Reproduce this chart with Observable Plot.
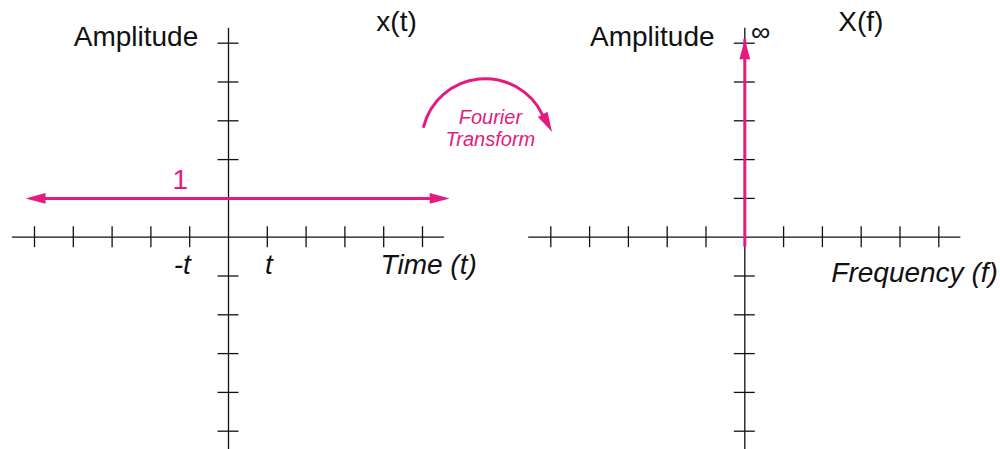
<!DOCTYPE html>
<html>
<head>
<meta charset="utf-8">
<script src="https://cdn.jsdelivr.net/npm/d3@7"></script>
<script src="https://cdn.jsdelivr.net/npm/@observablehq/plot@0.6"></script>
<style>
  html, body { margin: 0; padding: 0; background: #fff; overflow: hidden; }
</style>
</head>
<body>
<div id="chart"></div>
<script>
// ---------------- data ----------------
const panelKeys = ["time", "freq"];
const panelTitles = ["x(t)", "X(f)"];
const panelYLabels = ["Amplitude", "Amplitude"];
const panelXLabels = ["Time (t)", "Frequency (f)"];
const axisTicks = [-5, -4, -3, -2, -1, 1, 2, 3, 4, 5];
const timeTickValues = [-1, 1];
const timeTickLabels = ["-t", "t"];
const signalAmplitude = 1;             // x(t) = 1 (constant)
const signalStart = -5.23;             // left arrow tip (→ -∞)
const signalEnd = 5.70;                // right arrow tip (→ +∞)
const impulseFrequency = 0;            // X(f) impulse at f = 0
const impulseHeight = 5.1;             // arrow tip (→ ∞)
const impulseLabel = "∞";
const transformLabel = "Fourier\nTransform";

// ---------------- layout ----------------
const W = 1000, H = 449;
const UNIT = 38.8, ORIGIN_X = 228, ORIGIN_Y = 236.7;
const panelOrigin = [0, (744.3 - ORIGIN_X) / UNIT];
const titleX = [3.81, 2.41];
const xLabelX = [3.92, 2.23];
const xLabelY = [-0.96, -1.16];
const titleY = 5.31, yLabelX = -0.78, yLabelY = 4.915;
const axisHalf = 5.57, axisTop = 5.387, tickHalf = 0.27;
const tickLabelOffset = [-0.19, 0.04], tickLabelY = -0.96;
const ampLabelX = -1.24, ampLabelY = 1.25;
const infLabelX = 0.41, infLabelY = 5.06;
const arc = [{x1: 5.03, y1: 2.85, x2: 8.09, y2: 3.16, tipX: 8.34, tipY: 2.71, angle: 62}];
const transformTextX = 6.75, transformTextY = 2.34;

const PINK = "#e6197e";
const INK = "#111";
const FONT = "'Liberation Sans', Arial, Helvetica, sans-serif";

const xDomain = [-ORIGIN_X / UNIT, (W - ORIGIN_X) / UNIT];
const yDomain = [(ORIGIN_Y - H) / UNIT, ORIGIN_Y / UNIT];

const panels = panelKeys.map((key, i) => ({
  key, origin: panelOrigin[i], title: panelTitles[i],
  yLabel: panelYLabels[i], xLabel: panelXLabels[i],
  titleX: titleX[i], xLabelX: xLabelX[i], xLabelY: xLabelY[i]
}));
const ticks = panels.flatMap(p => axisTicks.map(v => ({origin: p.origin, v})));
const timeTicks = timeTickValues.map((v, i) => ({v, label: timeTickLabels[i], off: tickLabelOffset[i]}));
const signal = [{t0: signalStart, t1: signalEnd, a: signalAmplitude}];
const impulse = [{f: impulseFrequency, a: impulseHeight, label: impulseLabel}];

// filled arrowhead pointing along +x, tip at origin
const arrowHead = {
  draw(ctx) {
    ctx.moveTo(0, 0);
    ctx.lineTo(-20, -5.4);
    ctx.lineTo(-20, 5.4);
    ctx.closePath();
  }
};

const axisStyle = {stroke: INK, strokeWidth: 1.3};
const textBase = {fontFamily: FONT, fontSize: 28, fill: INK, lineAnchor: "bottom"};

const chart = Plot.plot({
  width: W,
  height: H,
  margin: 0,
  x: {domain: xDomain, axis: null},
  y: {domain: yDomain, axis: null},
  style: {background: "white", overflow: "hidden"},
  marks: [
    // horizontal axes
    Plot.ruleY(panels, {y: () => 0, x1: p => p.origin - axisHalf, x2: p => p.origin + axisHalf, ...axisStyle}),
    // vertical axes
    Plot.ruleX(panels, {x: p => p.origin, y1: () => yDomain[0], y2: () => axisTop, ...axisStyle}),
    // x ticks
    Plot.ruleX(ticks, {x: d => d.origin + d.v, y1: () => -tickHalf, y2: () => tickHalf, ...axisStyle}),
    // y ticks
    Plot.ruleY(ticks, {y: d => d.v, x1: d => d.origin - tickHalf, x2: d => d.origin + tickHalf, ...axisStyle}),

    // x(t) = 1 : double-headed arrow
    Plot.ruleY(signal, {y: "a", x1: "t0", x2: "t1", stroke: PINK, strokeWidth: 3, insetLeft: 10, insetRight: 10}),
    Plot.dot(signal, {x: "t0", y: "a", symbol: arrowHead, rotate: 180, fill: PINK, stroke: "none"}),
    Plot.dot(signal, {x: "t1", y: "a", symbol: arrowHead, rotate: 0, fill: PINK, stroke: "none"}),
    Plot.text(signal, {x: () => ampLabelX, y: () => ampLabelY, text: d => String(d.a), ...textBase, fill: PINK, textAnchor: "middle"}),

    // X(f) = impulse at f=0 (to infinity)
    Plot.ruleX(impulse, {x: d => panelOrigin[1] + d.f, y1: () => 0, y2: "a", stroke: PINK, strokeWidth: 3, insetTop: 10}),
    Plot.dot(impulse, {x: d => panelOrigin[1] + d.f, y: "a", symbol: arrowHead, rotate: -90, fill: PINK, stroke: "none"}),
    Plot.text(impulse, {x: () => panelOrigin[1] + infLabelX, y: () => infLabelY, text: "label", ...textBase, fontSize: 27, textAnchor: "middle"}),

    // curved "Fourier Transform" arrow
    Plot.arrow(arc, {x1: "x1", y1: "y1", x2: "x2", y2: "y2", bend: 70, headLength: 0, stroke: PINK, strokeWidth: 3}),
    Plot.dot(arc, {x: "tipX", y: "tipY", symbol: arrowHead, rotate: d => d.angle, fill: PINK, stroke: "none"}),
    Plot.text([transformLabel], {x: () => transformTextX, y: () => transformTextY, text: d => d, fontFamily: FONT, fontSize: 20, fontStyle: "italic", fill: PINK, textAnchor: "middle", lineAnchor: "bottom", lineHeight: 1.135}),

    // panel titles & axis labels
    Plot.text(panels, {x: p => p.origin + p.titleX, y: () => titleY, text: "title", ...textBase, textAnchor: "start"}),
    Plot.text(panels, {x: p => p.origin + yLabelX, y: () => yLabelY, text: "yLabel", ...textBase, textAnchor: "end"}),
    Plot.text(panels, {x: p => p.origin + p.xLabelX, y: "xLabelY", text: "xLabel", ...textBase, fontStyle: "italic", textAnchor: "start"}),
    Plot.text(timeTicks, {x: d => d.v + d.off, y: () => tickLabelY, text: "label", ...textBase, fontStyle: "italic", textAnchor: "middle"})
  ]
});

document.getElementById("chart").appendChild(chart);
</script>
</body>
</html>
